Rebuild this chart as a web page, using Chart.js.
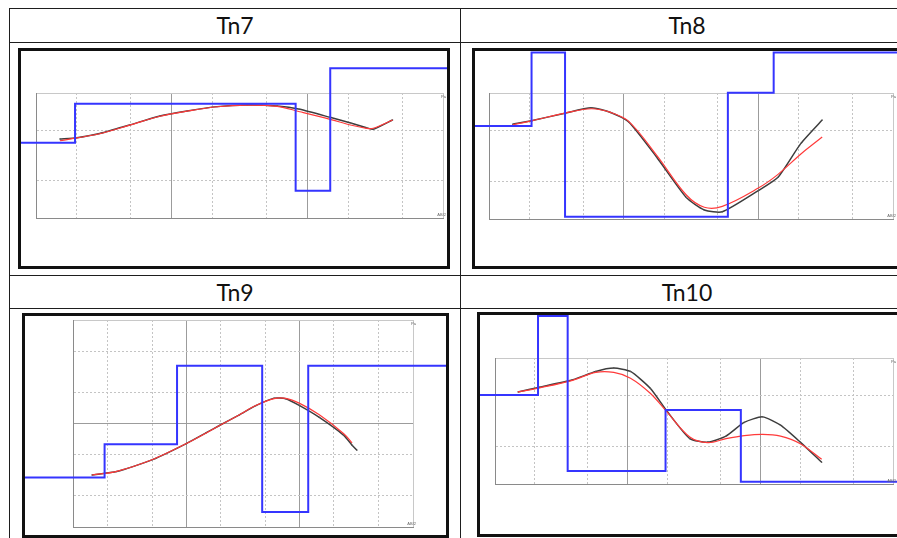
<!DOCTYPE html>
<html>
<head>
<meta charset="utf-8">
<script src="https://cdn.jsdelivr.net/npm/chart.js@4.4.1/dist/chart.umd.min.js"></script>
<style>
  body { margin: 0; background: #fff; }
  #page { position: relative; width: 897px; height: 538px; overflow: hidden; background: #fff; }
  .hl, .vl { position: absolute; background: #1e1e1e; }
  .hl { height: 1px; left: 9px; width: 920px; }
  .vl { width: 1px; top: 8px; height: 540px; }
  .title { position: absolute; height: 33px; line-height: 33px; text-align: center;
    font-family: Lato, 'Open Sans', sans-serif; font-size: 23px; color: #111; }
  .box { position: absolute; border: 3px solid #111; }
  .box canvas { display: block; }
</style>
</head>
<body>
<div id="page">
  <div class="hl" style="top:8px"></div>
  <div class="hl" style="top:42px"></div>
  <div class="hl" style="top:275px"></div>
  <div class="hl" style="top:308px"></div>
  <div class="vl" style="left:9px"></div>
  <div class="vl" style="left:460px"></div>

  <div class="title" style="left:10px;width:450px;top:9px">Tn7</div>
  <div class="title" style="left:461px;width:452px;top:9px">Tn8</div>
  <div class="title" style="left:10px;width:450px;top:276px">Tn9</div>
  <div class="title" style="left:461px;width:452px;top:276px">Tn10</div>

  <div class="box" style="left:18px;top:48px"><canvas id="tn7" width="426" height="215"></canvas></div>
  <div class="box" style="left:472px;top:48px"><canvas id="tn8" width="432" height="215"></canvas></div>
  <div class="box" style="left:22px;top:313px"><canvas id="tn9" width="421" height="219"></canvas></div>
  <div class="box" style="left:477px;top:312px"><canvas id="tn10" width="427" height="219"></canvas></div>
</div>

<script>
// AB/2 grid and resistivity grid (log-log sounding sheets)
let xGrid = [1, 2, 5, 10, 20, 50, 100, 200, 500, 1000]
let yGrid = [100, 200, 500, 1000]
let yGridWide = [100, 200, 500, 1000, 2000, 5000, 10000]

// Tn7
let tn7AB = [1.5, 2, 3, 4.9, 8.2, 13, 21.6, 36, 60, 88, 147, 212, 273, 306, 425]
let tn7Measured = [428, 439, 476, 555, 655, 718, 778, 802, 787, 741, 639, 572, 528, 512, 608]
let tn7Fitted = [415, 437, 474, 553, 652, 716, 776, 800, 782, 708, 616, 552, 522, 522, 608]
let tn7Layers = [1.94, 82, 147.5]
let tn7Rho = [400, 821, 165, 1577]

// Tn8
let tn8AB = [1.5, 2.1, 3.67, 5.74, 8.0, 10.9, 17.6, 29.2, 39.7, 54, 100, 140, 207, 298]
let tn8Measured = [565, 604, 692, 763, 701, 589, 309, 148, 118, 114, 168, 214, 398, 611]
let tn8Fitted = [560, 604, 692, 750, 701, 595, 320, 155, 124, 126, 176, 226, 328, 447]
let tn8Layers = [2.07, 3.67, 59.4, 130]
let tn8Rho = [547, 2100, 104, 1005, 2100]

// Tn9
let tn9AB = [1.47, 2.43, 5.1, 10, 15, 19.6, 29.4, 41, 59.5, 75.4, 100, 148, 245, 290, 320]
let tn9Measured = [318, 343, 450, 640, 815, 957, 1211, 1486, 1758, 1733, 1486, 1150, 768, 617, 552]
let tn9Fitted = [318, 345, 452, 640, 810, 955, 1215, 1490, 1740, 1750, 1564, 1219, 797, 649, null]
let tn9Layers = [1.9, 8.28, 46.7, 119]
let tn9Rho = [300, 630, 3610, 140, 3610]

// Tn10
let tn10AB = [1.49, 2.17, 3.84, 5.74, 7.86, 10.5, 14.8, 19.7, 29.4, 40.2, 55.1, 75.5, 104, 142, 200, 290]
let tn10Measured = [538, 586, 671, 782, 832, 782, 575, 381, 229, 215, 240, 308, 341, 293, 215, 149]
let tn10Fitted = [538, 580, 665, 769, 769, 692, 525, 375, 236, 213, 229, 242, 248, 240, 209, 157]
let tn10Layers = [2.11, 3.53, 19.3, 71.3]
let tn10Rho = [509, 2150, 127, 386, 104]

let isDecade = (v) => Math.abs(Math.log10(v) - Math.round(Math.log10(v))) < 1e-9

let cornerText = {
  id: 'cornerText',
  afterDraw(chart) {
    let {ctx, chartArea: a} = chart
    ctx.save()
    ctx.font = '4px "Liberation Sans"'
    ctx.fillStyle = '#666'
    ctx.textAlign = 'right'
    ctx.fillText('Pa', a.right + 3, a.top + 5)
    ctx.fillText('AB/2', a.right + 3, a.bottom - 2)
    ctx.restore()
  },
}

function logAxis(min, max, grid, vertical) {
  return {
    type: 'logarithmic',
    min: min,
    max: max,
    afterBuildTicks: (s) => { s.ticks = grid.map((v) => ({value: v})) },
    afterFit: (s) => {
      if (vertical) s.width = 0
      else s.height = 0
      s.paddingLeft = 0
      s.paddingRight = 0
      s.paddingTop = 0
      s.paddingBottom = 0
    },
    grid: {
      drawTicks: false,
      lineWidth: 1,
      color: (c) => {
        if (!c.tick) return '#999'
        if (c.tick.value === max) return '#c8c8c8'
        return isDecade(c.tick.value) ? '#9c9c9c' : '#c4c4c4'
      },
    },
    border: {
      display: true,
      color: '#8a8a8a',
      dash: (c) => (c.tick && !isDecade(c.tick.value) ? [2, 2] : []),
    },
    ticks: {
      autoSkip: false,
      maxRotation: 0,
      padding: 1,
      color: '#777',
      font: {size: 4, family: 'Liberation Sans'},
      callback: (v) => (isDecade(v) ? String(v) : ''),
    },
  }
}

function sounding(id, ab, measured, fitted, layers, rho, yMax, pad) {
  let edges = [0.1, ...layers, 10000]
  let model = edges.map((x, i) => ({x: x, y: rho[Math.min(i, rho.length - 1)]}))
  return new Chart(document.getElementById(id), {
    type: 'scatter',
    data: {
      datasets: [
        {
          label: 'model',
          data: model,
          showLine: true,
          stepped: 'before',
          borderColor: '#3535ff',
          borderWidth: 2,
          pointRadius: 0,
          clip: false,
          order: 0,
        },
        {
          label: 'fitted',
          data: ab.map((x, i) => ({x: x, y: fitted[i]})).filter((p) => p.y != null),
          showLine: true,
          borderColor: '#ff3a3a',
          borderWidth: 1.2,
          tension: 0.35,
          pointRadius: 0,
          order: 1,
        },
        {
          label: 'measured',
          data: ab.map((x, i) => ({x: x, y: measured[i]})),
          showLine: true,
          borderColor: '#3d3d3d',
          borderWidth: 1.5,
          tension: 0.2,
          pointRadius: 0.7,
          pointBackgroundColor: '#555',
          pointBorderWidth: 0,
          order: 2,
        },
      ],
    },
    options: {
      responsive: false,
      animation: false,
      layout: {padding: pad},
      plugins: {
        legend: {display: false},
        tooltip: {enabled: false},
      },
      scales: {
        x: logAxis(1, 1000, xGrid, false),
        y: logAxis(100, yMax, yMax > 1000 ? yGridWide : yGrid, true),
      },
    },
    plugins: [cornerText],
  })
}

sounding('tn7', tn7AB, tn7Measured, tn7Fitted, tn7Layers, tn7Rho, 1000,
  {left: 15, right: 4, top: 42, bottom: 48})
sounding('tn8', tn8AB, tn8Measured, tn8Fitted, tn8Layers, tn8Rho, 1000,
  {left: 14, right: 14, top: 42, bottom: 47})
sounding('tn9', tn9AB, tn9Measured, tn9Fitted, tn9Layers, tn9Rho, 10000,
  {left: 48, right: 33, top: 2, bottom: 8})
sounding('tn10', tn10AB, tn10Measured, tn10Fitted, tn10Layers, tn10Rho, 1000,
  {left: 15, right: 14, top: 43, bottom: 50})
</script>
</body>
</html>
